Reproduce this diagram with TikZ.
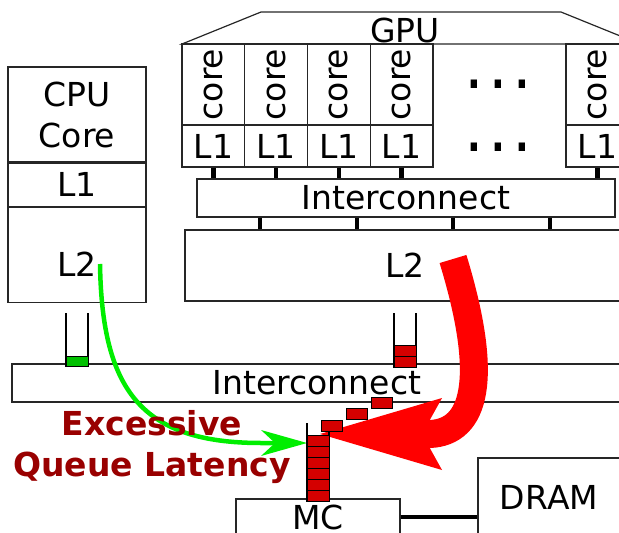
\documentclass[tikz,border=0pt]{standalone}
\usepackage{fontspec}
\setmainfont{DejaVu Sans}
\usetikzlibrary{arrows.meta,positioning}
\definecolor{slotred}{RGB}{212,0,0}
\definecolor{slotgreen}{RGB}{0,192,0}
\definecolor{flowgreen}{RGB}{0,238,0}
\definecolor{warnred}{RGB}{153,0,0}
\newcommand{\diagfont}{\fontsize{33}{41}\selectfont}
\tikzset{
  box/.style={draw=black!85,line width=1.2pt,inner sep=0pt,font=\diagfont},
  lbl/.style={inner sep=0pt,font=\diagfont},
  link/.style={line width=4.5pt},
  qwall/.style={line width=1.2pt},
  slot/.style={draw=black,line width=1pt,fill=slotred},
  more/.style={inner sep=0pt,yscale=1.25,font=\fontsize{36}{40}\selectfont\bfseries},
}
\begin{document}
\begin{tikzpicture}[x=1pt,y=-1pt]
\useasboundingbox (0,0) rectangle (619,533);
\clip (0,0) rectangle (619,533);
% CPU side
\node[box,minimum width=138pt,minimum height=95pt,align=center] (ccore) at (77,114.5) {CPU\\Core};
\node[box,minimum width=138pt,minimum height=43pt,below=0pt of ccore] (cl1) {L1};
\node[box,minimum width=138pt,minimum height=95pt,below=0pt of cl1] (cl2) {};
\node[lbl] (cl2txt) at ([yshift=-9pt]cl2.center) {L2};
% GPU side
\draw[box] (182,44) -- (261,12) -- (561,12) -- (640,44) -- cycle;
\node[lbl,anchor=base] (gpu) at (405,42) {GPU};
\node[box,minimum width=418pt,minimum height=38pt] (gic) at (406,198) {Interconnect};
\node[box,minimum width=440pt,minimum height=71pt] (gl2) at (405,265.5) {L2};
\foreach \n/\x in {1/213.4,2/276.1,3/338.9,4/401.6,5/597.4} {
  \node[box,rotate=90,minimum width=81pt,minimum height=62.75pt] (core\n) at (\x,84.5) {core};
  \node[box,minimum width=62.75pt,minimum height=42pt] (l1\n) at (\x,146) {L1};
  \draw[link] (l1\n.south) -- (l1\n.south |- gic.north);
}
\node[more] (dots1) at (498.5,84) {.\hspace{10pt}.\hspace{10pt}.};
\node[more] (dots2) at (498.5,147) {.\hspace{10pt}.\hspace{10pt}.};
\foreach \x in {260,357,453,550}
  \draw[link] (\x,0 |- gic.south) -- (\x,0 |- gl2.north);
% shared part
\node[box,minimum width=610pt,minimum height=38pt] (bic) at (317,383) {Interconnect};
\node[box,minimum width=164pt,minimum height=36pt] (mc) at (318,517) {MC};
\node[box,minimum width=142pt,minimum height=78pt] (dram) at (549,497) {DRAM};
\draw[line width=3.5pt] (mc.east) -- (mc.east -| dram.west);
% flows
\coordinate (cpusrc) at (100,264);
\coordinate (gpusrc) at (453,259);
\coordinate (mcq) at (307,443);
\coordinate (mcin) at (320,434);
\draw[flowgreen,line width=4.5pt,-{Stealth[length=46pt,width=26pt,inset=14pt,line width=0pt]}]
  (cpusrc) .. controls +(2,126) and +(-120,0) .. ([xshift=-46pt]mcq) -- (mcq);
\draw[red,line width=28pt,-{Stealth[length=122pt,width=72pt,inset=20pt,line width=0pt]}]
  (gpusrc) .. controls +(37,121) and +(45,-2) .. ([xshift=110pt]mcin) -- (mcin);
% queues
\draw[qwall] (66,313) -- (66,366) -- (88,366) -- (88,313);
\draw[slot,fill=slotgreen] (66,356) rectangle (88,366);
\draw[qwall] (394,313) -- (394,367) -- (416,367) -- (416,313);
\foreach \k in {0,1} \draw[slot] (394,345+11*\k) rectangle ++(22,11);
\draw[qwall] (307,423) -- (307,501) -- (329,501) -- (329,423);
\foreach \k in {0,...,5} \draw[slot] (307,435+11*\k) rectangle ++(22,11);
\foreach \k in {0,1,2} \draw[slot] (321+25*\k,420-11.5*\k) rectangle ++(21,11);
% label
\node[lbl,font=\diagfont\bfseries,text=warnred,anchor=base] (exc) at (152,435) {Excessive};
\node[lbl,font=\diagfont\bfseries,text=warnred,anchor=base] (qlat) at (152,476) {Queue Latency};
\end{tikzpicture}
\end{document}
